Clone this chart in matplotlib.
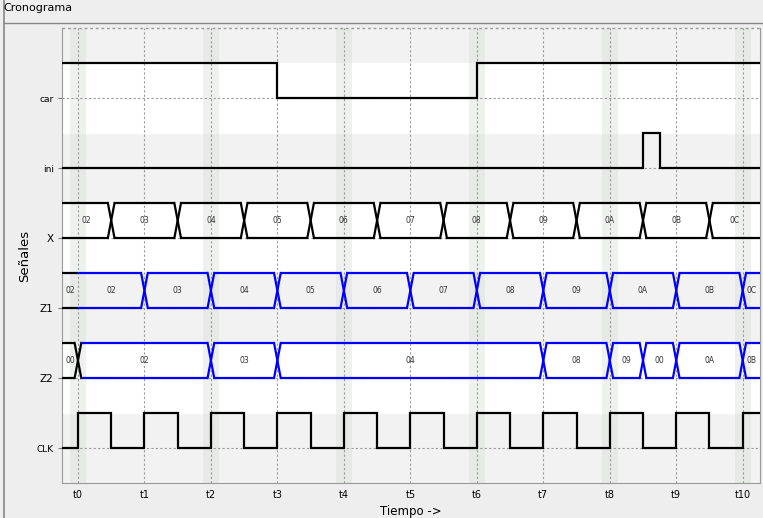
import numpy as np
import matplotlib
matplotlib.use("Agg")
import matplotlib.pyplot as plt
from matplotlib.lines import Line2D

# signal names from top to bottom
signals = ["car", "ini", "X", "Z1", "Z2", "CLK"]
tick_labels = ["t0", "t1", "t2", "t3", "t4", "t5", "t6", "t7", "t8", "t9", "t10"]

# digital signals: level at the left edge and times where it toggles
car_init = 1
car_edges = [3, 6]
ini_init = 0
ini_edges = [8.5, 8.75]
clk_init = 0
clk_edges = [0, 0.5, 1, 1.5, 2, 2.5, 3, 3.5, 4, 4.5, 5, 5.5,
             6, 6.5, 7, 7.5, 8, 8.5, 9, 9.5, 10]

# bus signals: change times and values (one more value than times)
x_times = [0.5, 1.5, 2.5, 3.5, 4.5, 5.5, 6.5, 7.5, 8.5, 9.5]
x_values = ["02", "03", "04", "05", "06", "07", "08", "09", "0A", "0B", "0C"]
z1_times = [0, 1, 2, 3, 4, 5, 6, 7, 8, 9, 10]
z1_values = ["02", "02", "03", "04", "05", "06", "07", "08", "09", "0A", "0B", "0C"]
z2_times = [0, 2, 3, 7, 8, 8.5, 9, 10]
z2_values = ["00", "02", "03", "04", "08", "09", "00", "0A", "0B"]

XMIN, XMAX = -0.24, 10.26
H = 0.5    # height of a high level / bus
HW = 0.05  # half width of a bus crossing

fig = plt.figure(figsize=(7.63, 5.18), dpi=100, facecolor="#eeeeee")
ax = fig.add_axes([62 / 763, 35 / 518, 698 / 763, 455 / 518])
ax.set_facecolor("#f2f2f2")
ax.set_xlim(XMIN, XMAX)
ax.set_ylim(-0.5, 6.0)

ypos = {name: len(signals) - 1 - i for i, name in enumerate(signals)}

# alternating bands
for name in signals:
    y = ypos[name]
    if y % 2 == 1:
        ax.axhspan(y - 0.5, y + 0.5, color="white", zorder=0)

# highlighted columns on the even ticks
for t in [0, 2, 4, 6, 8, 10]:
    ax.axvspan(t - 0.12, t + 0.12, color="#d5ddd5", alpha=0.4, lw=0, zorder=0.5)

# grid
for t in range(len(tick_labels)):
    ax.axvline(t, color="#9a9a9a", lw=0.8, ls=(0, (2, 2)), zorder=1)
for name in signals:
    ax.axhline(ypos[name], color="#9a9a9a", lw=0.8, ls=(0, (2, 2)), zorder=1)
ax.axhline(6.0, color="#9a9a9a", lw=1.0, ls=(0, (2, 2)), zorder=1, clip_on=False)


def draw_digital(y0, init, edges):
    xs = [XMIN] + list(edges) + [XMAX]
    lvl = [init]
    for _ in edges:
        lvl.append(1 - lvl[-1])
    lvl.append(lvl[-1])
    ys = [y0 + H * v for v in lvl]
    ax.plot(xs, ys, drawstyle="steps-post", color="black", lw=1.6, zorder=3,
            solid_joinstyle="miter")


def draw_bus(y0, times, values, colors):
    bounds = [XMIN] + list(times) + [XMAX]
    top, bot, mid = y0 + H, y0, y0 + H / 2
    for i, val in enumerate(values):
        a, b = bounds[i], bounds[i + 1]
        c = colors[i]
        # crossing at either end?
        left_x = i > 0 and values[i - 1] != val
        right_x = i < len(values) - 1 and values[i + 1] != val
        a2 = a + HW if left_x else a
        b2 = b - HW if right_x else b
        ax.plot([a2, b2], [top, top], color=c, lw=1.6, zorder=3, solid_capstyle="butt")
        ax.plot([a2, b2], [bot, bot], color=c, lw=1.6, zorder=3, solid_capstyle="butt")
        if right_x:
            ax.plot([b - HW, b + HW], [top, bot], color=c, lw=1.6, zorder=3)
            ax.plot([b - HW, b + HW], [bot, top], color=c, lw=1.6, zorder=3)
        ax.text((a + b) / 2, mid, val, ha="center", va="center",
                fontsize=5.5, color="#333333", zorder=4)


draw_digital(ypos["car"], car_init, car_edges)
draw_digital(ypos["ini"], ini_init, ini_edges)
draw_digital(ypos["CLK"], clk_init, clk_edges)
draw_bus(ypos["X"], x_times, x_values, ["black"] * len(x_values))
draw_bus(ypos["Z1"], z1_times, z1_values, ["black"] + ["blue"] * (len(z1_values) - 1))
draw_bus(ypos["Z2"], z2_times, z2_values, ["black"] + ["blue"] * (len(z2_values) - 1))

# axes decoration
ax.set_xticks(range(len(tick_labels)))
ax.set_xticklabels(tick_labels, fontsize=7)
ax.tick_params(axis="x", length=0, pad=5)
ax.set_yticks([ypos[n] for n in signals])
ax.set_yticklabels(signals)
ax.tick_params(axis="y", length=3, color="#777777", pad=3)
for lab, name in zip(ax.get_yticklabels(), signals):
    lab.set_fontsize(7.5 if name in ("X", "Z1", "Z2") else 6.5)
for side in ["left", "bottom", "right"]:
    ax.spines[side].set_color("#999999")
ax.spines["top"].set_visible(False)
ax.set_xlabel("Tiempo ->", fontsize=8.5, labelpad=4)
ax.set_ylabel("Señales", fontsize=9.5, va="center")
ax.yaxis.set_label_coords(-37 / 698, 0.5)

# window frame and title
fig.add_artist(Line2D([3.5 / 763, 3.5 / 763], [0, 1], color="#888888", lw=1.2,
                      transform=fig.transFigure))
fig.add_artist(Line2D([3.5 / 763, 1], [1 - 23 / 518, 1 - 23 / 518], color="#888888",
                      lw=1.0, transform=fig.transFigure))
fig.text(3 / 763, 1 - 8 / 518, "Cronograma", fontsize=8, va="center", ha="left")

fig.savefig("out.png", dpi=100, facecolor=fig.get_facecolor())
